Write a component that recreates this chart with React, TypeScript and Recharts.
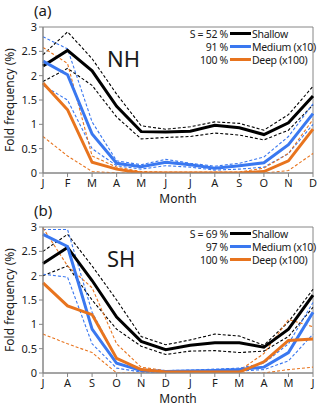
import { LineChart, Line, XAxis, YAxis, ReferenceArea } from 'recharts'

const NH_MONTHS = ['J', 'F', 'M', 'A', 'M', 'J', 'J', 'A', 'S', 'O', 'N', 'D']
const SH_MONTHS = ['J', 'A', 'S', 'O', 'N', 'D', 'J', 'F', 'M', 'A', 'M', 'J']
const Y_TICKS = [0, 0.5, 1, 1.5, 2, 2.5, 3]

// Northern hemisphere
const nhShallow = [2.2, 2.52, 2.1, 1.37, 0.85, 0.84, 0.86, 0.98, 0.93, 0.79, 1.03, 1.58]
const nhShallowHi = [2.43, 2.9, 2.35, 1.62, 0.97, 0.9, 0.95, 1.05, 1.02, 0.88, 1.2, 1.78]
const nhShallowLo = [1.88, 2.15, 1.8, 1.15, 0.7, 0.73, 0.75, 0.82, 0.78, 0.68, 0.88, 1.4]
const nhMedium = [2.3, 2.02, 0.8, 0.2, 0.13, 0.22, 0.17, 0.1, 0.15, 0.21, 0.58, 1.22]
const nhMediumHi = [2.8, 2.55, 1.05, 0.25, 0.17, 0.28, 0.2, 0.14, 0.2, 0.33, 0.75, 1.42]
const nhMediumLo = [1.8, 1.5, 0.5, 0.15, 0.08, 0.15, 0.12, 0.06, 0.08, 0.12, 0.4, 1.0]
const nhDeep = [1.85, 1.3, 0.22, 0.08, 0.0, 0.0, 0.0, 0.0, 0.0, 0.03, 0.25, 0.9]
const nhDeepHi = [2.58, 2.25, 0.35, 0.12, 0.03, 0.02, 0.02, 0.02, 0.02, 0.1, 0.4, 1.1]
const nhDeepLo = [0.75, 0.35, 0.03, 0.0, 0.0, 0.0, 0.0, 0.0, 0.0, 0.0, 0.05, 0.4]

// Southern hemisphere
const shShallow = [2.25, 2.58, 1.9, 1.15, 0.65, 0.48, 0.57, 0.62, 0.62, 0.53, 0.9, 1.6]
const shShallowHi = [2.5, 2.85, 2.2, 1.5, 0.75, 0.58, 0.68, 0.8, 0.76, 0.57, 1.05, 1.72]
const shShallowLo = [2.0, 2.2, 1.5, 0.9, 0.55, 0.38, 0.45, 0.46, 0.42, 0.45, 0.75, 1.35]
const shMedium = [2.85, 2.6, 0.9, 0.2, 0.05, 0.03, 0.04, 0.05, 0.07, 0.12, 0.42, 1.25]
const shMediumHi = [2.95, 2.95, 1.25, 0.3, 0.08, 0.05, 0.06, 0.08, 0.1, 0.2, 0.6, 1.45]
const shMediumLo = [2.03, 1.97, 0.6, 0.1, 0.02, 0.01, 0.02, 0.02, 0.04, 0.07, 0.25, 0.8]
const shDeep = [1.85, 1.38, 1.2, 0.3, 0.07, 0.02, 0.02, 0.02, 0.02, 0.23, 0.67, 0.7]
const shDeepHi = [2.98, 2.2, 1.75, 0.6, 0.12, 0.05, 0.04, 0.04, 0.05, 0.4, 1.1, 0.95]
const shDeepLo = [0.8, 0.6, 0.42, 0.0, 0.0, 0.0, 0.0, 0.0, 0.0, 0.0, 0.07, 0.12]

const BLACK = '#000000'
const BLUE = '#3a78f0'
const ORANGE = '#e8741e'
const AXIS = '#868686'
const INK = '#1a1a1a'
const FONT = '"Noto Sans", "Open Sans", sans-serif'

function buildRows(series: number[][]) {
  return series[0].map((_, i) => {
    const row: Record<string, number> = { i }
    series.forEach((s, k) => {
      row['s' + k] = s[i]
    })
    return row
  })
}

const nhData = buildRows([
  nhShallowHi, nhShallowLo, nhMediumHi, nhMediumLo, nhDeepHi, nhDeepLo,
  nhShallow, nhMedium, nhDeep,
])
const shData = buildRows([
  shShallowHi, shShallowLo, shMediumHi, shMediumLo, shDeepHi, shDeepLo,
  shShallow, shMedium, shDeep,
])

const SERIES = [
  { key: 's0', color: BLACK, dashed: true },
  { key: 's1', color: BLACK, dashed: true },
  { key: 's2', color: BLUE, dashed: true },
  { key: 's3', color: BLUE, dashed: true },
  { key: 's4', color: ORANGE, dashed: true },
  { key: 's5', color: ORANGE, dashed: true },
  { key: 's6', color: BLACK, dashed: false },
  { key: 's7', color: BLUE, dashed: false },
  { key: 's8', color: ORANGE, dashed: false },
]

interface PanelProps {
  readonly top: number
  readonly height: number
  readonly data: Record<string, number>[]
  readonly months: string[]
  readonly tag: string
  readonly region: string
  readonly pcts: string[]
}

function Panel({ top, height, data, months, tag, region, pcts }: PanelProps) {
  const legend = [
    { pct: pcts[0], color: BLACK, name: 'Shallow' },
    { pct: pcts[1], color: BLUE, name: 'Medium (x10)' },
    { pct: pcts[2], color: ORANGE, name: 'Deep (x100)' },
  ]
  const text = {
    position: 'absolute' as const,
    fontFamily: FONT,
    color: INK,
    whiteSpace: 'nowrap' as const,
    lineHeight: 1,
  }
  const legendText = { ...text, fontSize: 10.5, letterSpacing: -0.3, transform: 'translateY(-50%)' }
  return (
    <div style={{ position: 'absolute', left: 0, top, width: 320, height }}>
      <LineChart
        width={320}
        height={height}
        data={data}
        margin={{ top: 27, right: 7, bottom: height - 203, left: 13 }}
      >
        <XAxis
          type="number"
          dataKey="i"
          domain={[0, 11]}
          ticks={months.map((_, i) => i)}
          tickFormatter={(v) => months[v]}
          height={30}
          stroke={AXIS}
          tickSize={4}
          tick={{ fill: INK, fontSize: 11, fontFamily: FONT }}
          tickMargin={2}
        />
        <YAxis
          domain={[0, 3]}
          ticks={Y_TICKS}
          allowDataOverflow
          width={30}
          stroke={AXIS}
          tickSize={4}
          tick={{ fill: INK, fontSize: 11, fontFamily: FONT }}
          tickMargin={2}
        />
        <ReferenceArea x1={0} x2={11} y1={0} y2={3} fill="none" stroke={AXIS} strokeWidth={1} />
        {SERIES.map((s) => (
          <Line
            key={s.key}
            dataKey={s.key}
            stroke={s.color}
            strokeWidth={s.dashed ? 1.1 : 3}
            strokeDasharray={s.dashed ? '3 2' : undefined}
            dot={false}
            activeDot={false}
            isAnimationActive={false}
          />
        ))}
      </LineChart>
      <div style={{ ...text, left: 34, top: 3, fontSize: 15 }}>{tag}</div>
      <div style={{ ...text, left: 107, top: 47, fontSize: 22 }}>{region}</div>
      <div
        style={{
          ...text,
          left: 10,
          top: 100,
          fontSize: 12,
          transform: 'translate(-50%, -50%) rotate(-90deg)',
        }}
      >
        Fold frequency (%)
      </div>
      <div style={{ ...text, left: 178, top: 199, fontSize: 12, transform: 'translate(-50%, -50%)' }}>
        Month
      </div>
      {legend.map((l, k) => (
        <div key={l.name} style={{ position: 'absolute', left: 0, width: 320, top: 33.5 + k * 13.2 }}>
          <div style={{ ...legendText, right: 320 - 228, top: 0 }}>
            {k === 0 ? 'S = ' + l.pct : l.pct}
          </div>
          <div style={{ position: 'absolute', left: 230, top: -1.5, width: 21, height: 3, background: l.color }} />
          <div style={{ ...legendText, left: 252, top: 0 }}>{l.name}</div>
        </div>
      ))}
    </div>
  )
}

export default function App() {
  return (
    <div style={{ position: 'absolute', left: 0, top: 0, width: 320, height: 408, background: '#fff' }}>
      <Panel top={0} height={203} data={nhData} months={NH_MONTHS} tag="(a)" region="NH" pcts={['52 %', '91 %', '100 %']} />
      <Panel top={200} height={208} data={shData} months={SH_MONTHS} tag="(b)" region="SH" pcts={['69 %', '97 %', '100 %']} />
    </div>
  )
}
